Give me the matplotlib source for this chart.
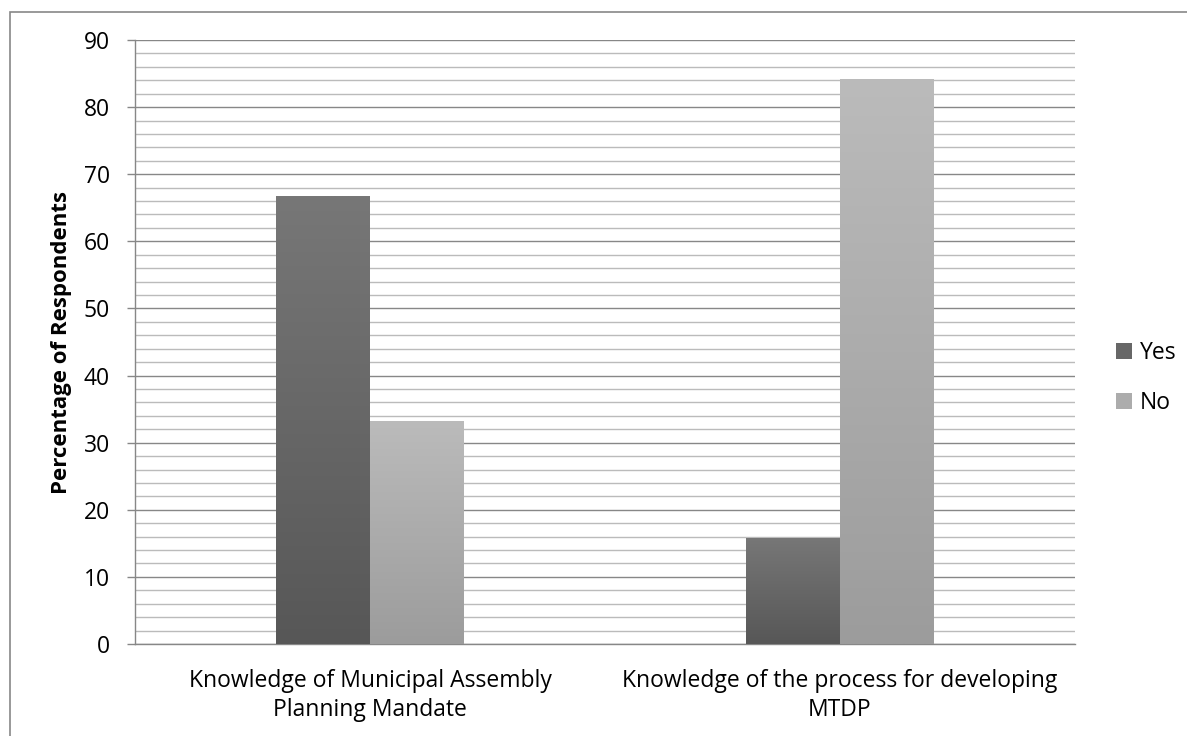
import numpy as np
import matplotlib
matplotlib.use("Agg")
import matplotlib.pyplot as plt
from matplotlib.patches import Rectangle, Patch
from matplotlib.colors import LinearSegmentedColormap

plt.rcParams['font.family'] = ['Open Sans', 'DejaVu Sans']

# data
categories = ["Knowledge of Municipal Assembly\nPlanning Mandate",
              "Knowledge of the process for developing\nMTDP"]
series_names = ["Yes", "No"]
yes_values = [66.7, 15.8]
no_values = [33.3, 84.2]
y_ticks = [0, 10, 20, 30, 40, 50, 60, 70, 80, 90]

W, H = 1187, 736
fig = plt.figure(figsize=(W / 100, H / 100), dpi=100)
ax = fig.add_axes([135 / W, 1 - 644 / H, 940 / W, 604 / H])

# outer chart frame (only left and top edges are inside the picture)
fig.add_artist(Rectangle((10 / W, -0.5), 2.0, 0.5 + (1 - 12 / H),
                         transform=fig.transFigure, fill=False,
                         edgecolor='#878787', linewidth=1.2))

x = np.arange(len(categories))
width = 0.2
bars_yes = ax.bar(x - width / 2, yes_values, width, color='#666666', label='Yes', zorder=3)
bars_no = ax.bar(x + width / 2, no_values, width, color='#ababab', label='No', zorder=3)

# vertical gradient fill inside each bar (lighter at the top)
grad = np.linspace(0, 1, 256).reshape(-1, 1)
cmaps = {
    'Yes': LinearSegmentedColormap.from_list('yes', ['#777777', '#575757']),
    'No': LinearSegmentedColormap.from_list('no', ['#bbbbbb', '#9c9c9c']),
}
for name, bars in (('Yes', bars_yes), ('No', bars_no)):
    for p in bars:
        x0, y0 = p.get_x(), p.get_y()
        x1, y1 = x0 + p.get_width(), y0 + p.get_height()
        im = ax.imshow(grad, cmap=cmaps[name], aspect='auto',
                       extent=(x0, x1, y0, y1), origin='upper', zorder=4)
        im.set_clip_path(p)
        p.set_facecolor('none')

ax.set_xlim(-0.5, len(categories) - 0.5)
ax.set_ylim(0, 90)

ax.set_yticks(y_ticks)
ax.set_yticks(np.arange(0, 91, 2), minor=True)
ax.yaxis.grid(True, which='minor', color='#bbbbbb', linewidth=1.0, zorder=0)
ax.yaxis.grid(True, which='major', color='#878787', linewidth=1.0, zorder=1)
ax.tick_params(axis='y', which='major', direction='out', length=6, width=1.0,
               color='#878787', pad=12, labelsize=16.5)
ax.tick_params(axis='y', which='minor', length=0)

ax.set_xticks(x)
ax.set_xticklabels(categories, fontsize=16.5, linespacing=1.25)
ax.tick_params(axis='x', length=0, pad=18)

for side in ('top', 'right'):
    ax.spines[side].set_visible(False)
for side in ('left', 'bottom'):
    ax.spines[side].set_color('#878787')
    ax.spines[side].set_linewidth(1.0)

fig.text(62 / W, 1 - 343 / H, 'Percentage of Respondents', rotation=90,
         ha='center', va='center', fontsize=16, fontweight='bold')

handles = [Patch(facecolor='#676767'), Patch(facecolor='#acacac')]
fig.legend(handles, series_names, loc='center left',
           bbox_to_anchor=(1116 / W, 1 - 378 / H), frameon=False,
           fontsize=16.5, handlelength=0.7, handleheight=0.7,
           handletextpad=0.35, labelspacing=1.1, borderpad=0, borderaxespad=0)

fig.savefig('out.png', dpi=100)
